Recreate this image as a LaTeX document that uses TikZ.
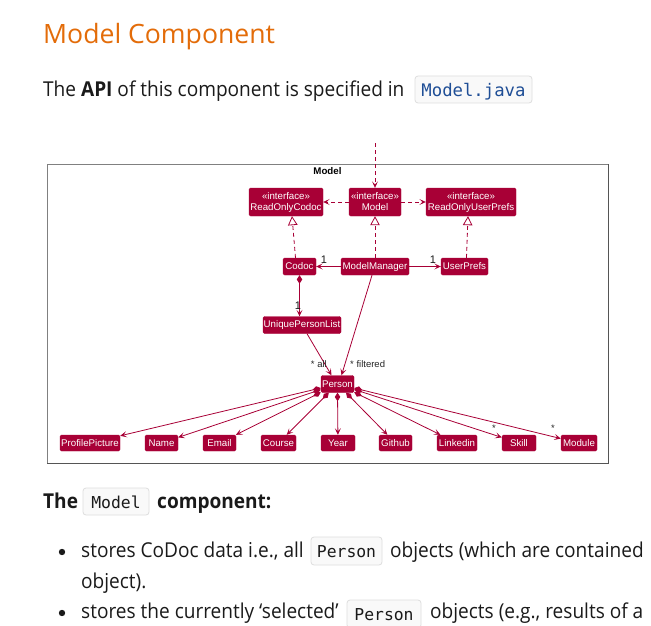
\documentclass[tikz,border=0pt]{standalone}
\usepackage{fontspec}
\setmainfont{Open Sans}[FakeStretch=0.93]
\newfontfamily\headfont{Open Sans}
\newfontfamily\umlfont{Liberation Sans}
\newfontfamily\codefont{DejaVu Sans Mono}
\usetikzlibrary{arrows.meta}
\definecolor{umlred}{HTML}{A80036}
\definecolor{headorange}{HTML}{E36C09}
\definecolor{codeblue}{HTML}{1F4E96}
\definecolor{codebg}{HTML}{F9F9F9}
\definecolor{codeborder}{HTML}{DDDDDD}
\definecolor{bodytext}{HTML}{1A1A1A}
\definecolor{framegray}{HTML}{808080}
\definecolor{framedark}{HTML}{555555}
\begin{document}
\begin{tikzpicture}[x=1pt,y=-1pt,
  cls/.style={fill=umlred, draw=umlred, rounded corners=1.5pt, text=white, inner sep=0pt, align=center,
    font=\umlfont\fontsize{9.7}{11}\selectfont},
  lbl/.style={font=\umlfont\fontsize{9.5}{11}\selectfont, text=black!85, inner sep=0pt},
  mult/.style={font=\umlfont\fontsize{11}{12}\selectfont, text=black!90, inner sep=0pt},
  conn/.style={draw=umlred, line width=0.8pt},
  arr/.style={conn, -{Stealth[length=6.5pt,width=6pt,inset=3pt]}},
  dep/.style={arr, dash pattern=on 4pt off 3pt},
  real/.style={conn, dash pattern=on 4pt off 3pt, -{Triangle[open, length=9pt, width=9.5pt, fill=white]}},
  comp/.style={conn, {Diamond[length=8.5pt,width=5.5pt]}-{Stealth[length=6.5pt,width=6pt,inset=3pt]}},
  body/.style={font=\fontsize{20.5}{24}\selectfont, text=bodytext, inner sep=0pt},
  codebox/.style={draw=codeborder, fill=codebg, rounded corners=3pt, inner sep=0pt, line width=0.8pt,
    font=\codefont\fontsize{16.4}{19}\selectfont, text=bodytext},
]
\useasboundingbox (0,0) rectangle (651,626);
\clip (0,0) rectangle (651,626);

% ---------- page text ----------
\node[anchor=base west, inner sep=0pt, text=headorange, font=\headfont\fontsize{26.6}{30}\selectfont] (title) at (43,43.3) {Model Component};
\node[anchor=base west, body] (api) at (43,96.7) {The \textbf{API} of this component is specified in};
\node[codebox, minimum width=117, minimum height=27, text height=16, text depth=1.6,
      font=\codefont\fontsize{17.3}{20}\selectfont, text=codeblue] (apicode) at (473.5,89.5) {Model.java};

\node[anchor=base west, body] (h2a) at (43,508) {\textbf{The}};
\node[codebox, minimum width=66, minimum height=27, text height=15, text depth=2] (h2code) at (116,501.5) {Model};
\node[anchor=base west, body] (h2b) at (157,508) {\textbf{component:}};

\fill[bodytext] (62,552) circle (3.2);
\node[anchor=base west, body] (b1a) at (81,557) {stores CoDoc data i.e., all};
\node[codebox, minimum width=71, minimum height=28, text height=14, text depth=2] (b1code) at (346.5,551) {Person};
\node[anchor=base west, body] (b1b) at (390,557) {objects (which are contained};
\node[anchor=base west, body] (b1c) at (81,588) {object).};
\fill[bodytext] (62,613) circle (3.2);
\node[anchor=base west, body] (b2a) at (81,618) {stores the currently ‘selected’};
\node[codebox, minimum width=74, minimum height=28, text height=14, text depth=2] (b2code) at (384,614) {Person};
\node[anchor=base west, body] (b2b) at (430,618) {objects (e.g., results of a};

% ---------- diagram ----------
\draw[framegray, line width=0.9pt] (47,164) rectangle (608,463);
\draw[framedark, line width=0.9pt] (608,164) -- (608,463) -- (47,463);
\node[inner sep=0pt, font=\umlfont\bfseries\fontsize{9.7}{11}\selectfont] (pkg) at (327.5,171.5) {Model};

\node[cls, minimum width=74, minimum height=28] (roc) at (286,202) {«interface»\\ReadOnlyCodoc};
\node[cls, minimum width=52, minimum height=28] (model) at (375,202) {«interface»\\Model};
\node[cls, minimum width=90, minimum height=28] (roup) at (471,202) {«interface»\\ReadOnlyUserPrefs};

\node[cls, minimum width=33, minimum height=17] (codoc) at (299.5,266.5) {Codoc};
\node[cls, minimum width=68, minimum height=17] (mm) at (375,266.5) {ModelManager};
\node[cls, minimum width=47, minimum height=17] (up) at (464.5,266.5) {UserPrefs};
\node[cls, minimum width=78, minimum height=17] (upl) at (302,325) {UniquePersonList};
\node[cls, minimum width=33, minimum height=17] (person) at (337.5,384) {Person};

\node[cls, minimum width=60, minimum height=16] (pp) at (90,443) {ProfilePicture};
\node[cls, minimum width=33, minimum height=16] (name) at (161.5,443) {Name};
\node[cls, minimum width=33, minimum height=16] (email) at (219.5,443) {Email};
\node[cls, minimum width=35, minimum height=16] (course) at (278.5,443) {Course};
\node[cls, minimum width=34, minimum height=16] (year) at (338,443) {Year};
\node[cls, minimum width=33, minimum height=16] (github) at (395.5,443) {Github};
\node[cls, minimum width=40, minimum height=16] (linkedin) at (457,443) {Linkedin};
\node[cls, minimum width=34, minimum height=16] (skill) at (519,443) {Skill};
\node[cls, minimum width=36, minimum height=16] (module) at (579,443) {Module};

\coordinate (ext) at (375,143);
\draw[dep] (ext) -- (model);
\draw[dep] (model) -- (roc);
\draw[dep] (model) -- (roup);

\draw[real] ([xshift=-4pt]codoc.north) -- ([xshift=6pt]roc.south);
\draw[real] (mm) -- (model);
\draw[real] ([xshift=2pt]up.north) -- ([xshift=-3pt]roup.south);

\draw[arr] (mm) -- (codoc);
\draw[arr] (mm) -- (up);
\node[mult] (l1) at (324,260) {1};
\node[mult] (l2) at (433,260) {1};

\draw[comp] (codoc) -- (codoc |- upl.north);
\node[mult] (l3) at (298,306) {1};

\draw[arr] ([xshift=5pt]upl.south) -- ([xshift=-6pt]person.north);
\draw[arr] ([xshift=-3pt]mm.south) -- ([xshift=4pt]person.north);
\node[lbl, anchor=east] (lall) at (327,364) {* all};
\node[lbl, anchor=west] (lfilt) at (350,364) {* filtered};

\draw[comp] (person) -- (pp);
\draw[comp] (person) -- (name);
\draw[comp] (person) -- (email);
\draw[comp] (person) -- (course);
\draw[comp] (person.south) -- (year);
\draw[comp] (person) -- (github);
\draw[comp] (person) -- (linkedin);
\draw[comp] (person) -- (skill);
\draw[comp] (person) -- (module);
\node[lbl] (ls) at (494,428) {*};
\node[lbl] (lm) at (553,428) {*};
\end{tikzpicture}
\end{document}
